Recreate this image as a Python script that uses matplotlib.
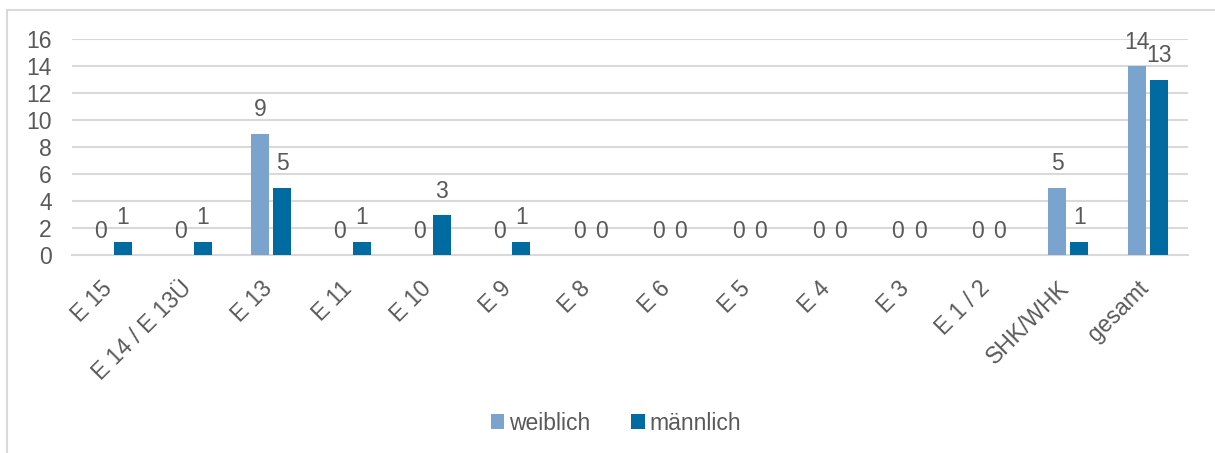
import matplotlib
matplotlib.use("Agg")
import matplotlib.pyplot as plt
from matplotlib.patches import Rectangle
import numpy as np

categories = ["E 15", "E 14 / E 13Ü", "E 13", "E 11", "E 10", "E 9", "E 8",
              "E 6", "E 5", "E 4", "E 3", "E 1 / 2", "SHK/WHK", "gesamt"]
weiblich = [0, 0, 9, 0, 0, 0, 0, 0, 0, 0, 0, 0, 5, 14]
maennlich = [1, 1, 5, 1, 3, 1, 0, 0, 0, 0, 0, 0, 1, 13]
yticks = [0, 2, 4, 6, 8, 10, 12, 14, 16]

C_W = "#7AA4CD"
C_M = "#006BA0"
TXT = "#595959"
GRID = "#D9D9D9"

plt.rcParams["font.family"] = ["Liberation Sans", "DejaVu Sans"]
FS = 16.5

W, H = 1215, 453
PX = 72 / 100  # points per pixel at 100 dpi
fig = plt.figure(figsize=(W / 100, H / 100), dpi=100)

# outer chart frame
fig.add_artist(Rectangle((7 / W, -0.05), 1.05, (H - 10) / H + 0.05,
                         transform=fig.transFigure, fill=False,
                         edgecolor=GRID, linewidth=1.5))

ax = fig.add_axes([72 / W, (H - 255) / H, (1188 - 72) / W, (255 - 39) / H])

x = np.arange(len(categories))
bw = 0.225
off = 0.138
bars_w = ax.bar(x - off, weiblich, bw, color=C_W, label="weiblich", zorder=3)
bars_m = ax.bar(x + off, maennlich, bw, color=C_M, label="männlich", zorder=3)

for bars in (bars_w, bars_m):
    for b in bars:
        v = b.get_height()
        ax.annotate(f"{v:g}", (b.get_x() + b.get_width() / 2, v),
                    xytext=(0, 12 * PX), textcoords="offset points",
                    ha="center", va="bottom", fontsize=FS, color=TXT)

ax.set_xlim(-0.5, len(categories) - 0.5)
ax.set_ylim(0, 16)
ax.set_yticks(yticks)
ax.yaxis.grid(True, color=GRID, linewidth=1.5, zorder=0)
ax.set_axisbelow(True)
for s in ("top", "right", "left"):
    ax.spines[s].set_visible(False)
ax.spines["bottom"].set_color(GRID)
ax.spines["bottom"].set_linewidth(1.5)
ax.tick_params(axis="both", length=0, labelsize=FS, labelcolor=TXT)
ax.tick_params(axis="y", pad=20 * PX)

# rotated category labels, anchored at their right end below each group
ax.set_xticks(x)
ax.set_xticklabels([])
for xi, name in zip(x, categories):
    ax.annotate(name, (xi, 0), xycoords=("data", "axes fraction"),
                xytext=(-3 * PX, -30 * PX), textcoords="offset points",
                rotation=45, rotation_mode="anchor", ha="right", va="center",
                fontsize=FS, color=TXT)

fig.legend(handles=[bars_w, bars_m], labels=["weiblich", "männlich"],
           loc="center", bbox_to_anchor=(616 / W, 1 - 423 / H), ncol=2,
           frameon=False, fontsize=FS, labelcolor=TXT,
           handlelength=0.6, handleheight=0.6, handletextpad=0.2,
           columnspacing=1.8)

fig.savefig("out.png", dpi=100)
